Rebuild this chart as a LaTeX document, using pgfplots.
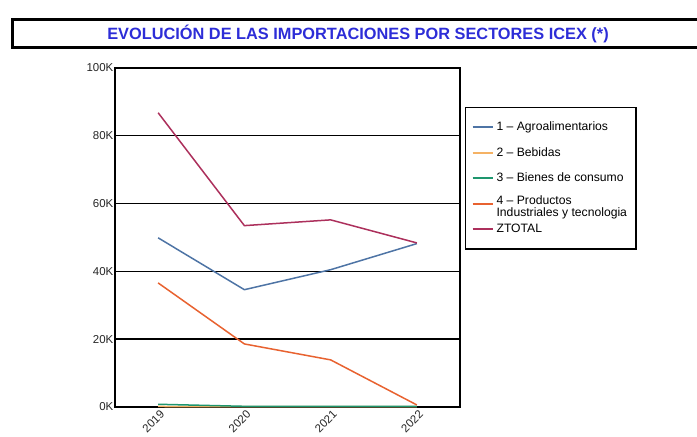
\documentclass[border=0pt]{standalone}
\usepackage{pgfplots}
\pgfplotsset{compat=1.18}
\usepackage{fontspec}
\setmainfont{Liberation Sans}
\definecolor{cagro}{RGB}{78,116,165}
\definecolor{cbeb}{RGB}{245,178,100}
\definecolor{cbien}{RGB}{30,150,110}
\definecolor{cprod}{RGB}{232,98,48}
\definecolor{ctot}{RGB}{172,48,92}
\definecolor{ctitle}{RGB}{45,45,215}
\begin{document}
\begin{tikzpicture}[x=1bp,y=1bp]
\useasboundingbox (0,0) rectangle (697,437);
\draw[line width=3bp] (12,417) rectangle (712,389);
\node[font=\fontsize{16.4}{18}\selectfont\bfseries, text=ctitle] at (358,403) {EVOLUCIÓN DE LAS IMPORTACIONES POR SECTORES ICEX (*)};
\begin{axis}[
  at={(115bp,30bp)}, anchor=south west,
  scale only axis, width=345bp, height=339bp,
  xmin=-0.5, xmax=3.5, ymin=0, ymax=100,
  xtick={0,1,2,3}, xticklabels={2019,2020,2021,2022},
  ytick={0,20,40,60,80,100}, yticklabels={0K,20K,40K,60K,80K,100K},
  major tick length=0pt,
  ymajorgrids, grid style={black, line width=1.4bp},
  axis line style={black, line width=1.4bp},
  ticklabel style={font=\fontsize{11.5}{13}\selectfont, text=black!85},
  x tick label style={rotate=45, anchor=north east, inner sep=0.5bp, yshift=-2bp},
  y tick label style={inner sep=1.5bp},
  legend style={at={(rel axis cs:1.0145,0.885)}, anchor=north west,
    draw=black, line width=1.2bp, inner xsep=6bp, inner ysep=7bp, row sep=0pt,
    font=\fontsize{12.2}{13.4}\selectfont,
    nodes={minimum height=25.5bp, inner ysep=0pt, inner xsep=3bp}},
  legend cell align=left,
  legend image code/.code={\draw[mark repeat=2,mark phase=2] plot coordinates {(0bp,0bp) (10bp,0bp) (20bp,0bp)};},
  legend image post style={line width=2bp},
  every axis plot/.append style={line width=1.5bp},
  clip=false,
]
\addplot[cagro] coordinates {(0,49.9) (1,34.6) (2,40.5) (3,48.2)};
\addlegendentry{1 -- Agroalimentarios}
\addplot[cbeb] coordinates {(0,0.15) (1,0.1) (2,0.1) (3,0.1)};
\addlegendentry{2 -- Bebidas}
\addplot[cbien] coordinates {(0,0.8) (1,0.2) (2,0.2) (3,0.2)};
\addlegendentry{3 -- Bienes de consumo}
\addplot[cprod] coordinates {(0,36.6) (1,18.6) (2,13.9) (3,0.6)};
\addlegendentry{\begin{tabular}{@{}l@{}}4 -- Productos\\[-1.5bp]Industriales y tecnologia\end{tabular}}
\addplot[ctot] coordinates {(0,86.8) (1,53.5) (2,55.2) (3,48.4)};
\addlegendentry{ZTOTAL}
\end{axis}
\end{tikzpicture}
\end{document}
